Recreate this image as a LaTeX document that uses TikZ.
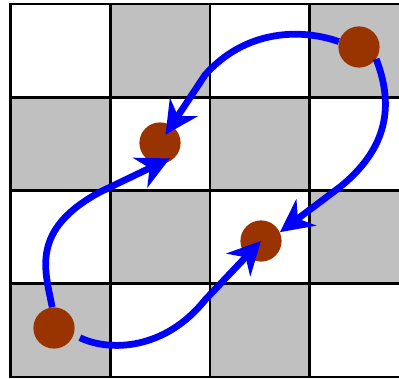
\documentclass[tikz,border=0pt]{standalone}
\usetikzlibrary{arrows.meta}

\definecolor{cellgray}{RGB}{192,192,192}
\definecolor{tokenbrown}{RGB}{153,51,0}

\tikzset{
  token/.style={circle, fill=tokenbrown, inner sep=0pt, minimum size=1.03cm},
  move/.style={blue, line width=4.8pt, -{Stealth[length=0.82cm, width=0.82cm, inset=0.26cm]}},
  gridline/.style={line width=2pt, line cap=rect},
}

\begin{document}
\begin{tikzpicture}[x=0.025cm, y=-0.025cm]

    \clip (0,0) rectangle (399,379);

    \foreach \c in {0,...,3}
      \foreach \r in {0,...,3} {
        \pgfmathparse{int(mod(\c+\r,2))}
        \ifnum\pgfmathresult=1
          \fill[cellgray] ({10.5+99.75*\c},{4+93.25*\r}) rectangle ++(99.75,93.25);
        \fi
      }

    \foreach \i in {0,...,4} {
      \draw[gridline] ({10.5+99.75*\i},4) -- ({10.5+99.75*\i},377);
      \draw[gridline] (10.5,{4+93.25*\i}) -- (409.5,{4+93.25*\i});
    }

    \node[token] (dTR) at (359,47) {};
    \node[token] (dML) at (160,143) {};
    \node[token] (dMC) at (261,241) {};
    \node[token] (dBL) at (54,328) {};

    \draw[move, shorten >=0.25cm] (dTR.165) .. controls (300,28) and (245,30) .. (205,75) -- (dML.center);
    \draw[move] (dTR.-35) .. controls (392,100) and (392,145) .. (340,187) -- (dMC.25);
    \draw[move, shorten >=0.2cm] (dBL.95) .. controls (45,270) and (30,230) .. (100,192) -- (dML.-35);
    \draw[move, shorten <=0.17cm] (dBL.-19) .. controls (110,352) and (165,350) .. (205,300) -- (dMC.center);

\end{tikzpicture}
\end{document}
